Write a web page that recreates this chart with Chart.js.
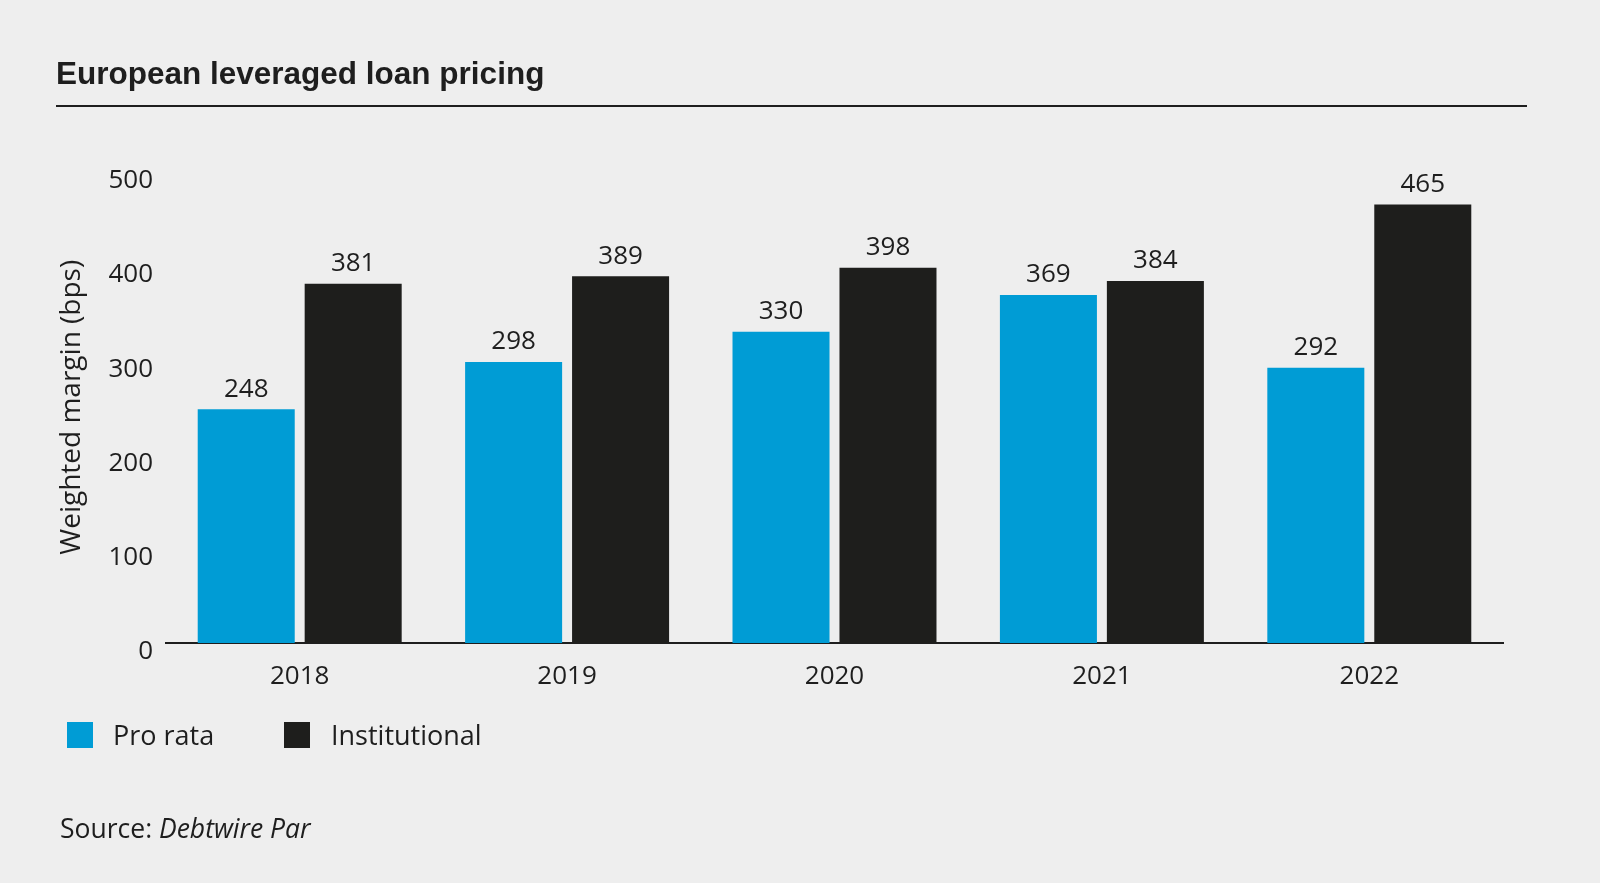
<!DOCTYPE html>
<html>
<head>
<meta charset="utf-8">
<script src="https://cdn.jsdelivr.net/npm/chart.js@4.4.1/dist/chart.umd.min.js"></script>
<style>
  html, body { margin: 0; padding: 0; background: #eeeeee; }
  #wrap { width: 1600px; height: 883px; position: relative; }
  canvas { display: block; }
</style>
</head>
<body>
<div id="wrap"><canvas id="c" width="1600" height="883"></canvas></div>
<script>
const titleText = "European leveraged loan pricing";
const categories = ["2018", "2019", "2020", "2021", "2022"];
const seriesNames = ["Pro rata", "Institutional"];
const proRata = [248, 298, 330, 369, 292];
const institutional = [381, 389, 398, 384, 465];
const yTicks = [0, 100, 200, 300, 400, 500];
const yAxisTitle = "Weighted margin (bps)";
const sourceLabel = "Source: ";
const sourceName = "Debtwire Par";

const TEXT = "#1e1e1e";
const BLUE = "#009cd5";
const BLACK = "#1e1e1c";
const FONT = "'Open Sans', 'Noto Sans', sans-serif";

const decorPlugin = {
  id: 'decor',
  afterDraw(chart) {
    const ctx = chart.ctx;
    ctx.save();
    // Title
    ctx.fillStyle = TEXT;
    ctx.font = "bold 31.5px 'Liberation Sans', Arial, sans-serif";
    ctx.textBaseline = 'alphabetic';
    ctx.textAlign = 'left';
    ctx.fillText(titleText, 56, 84);
    // rule
    ctx.strokeStyle = TEXT;
    ctx.lineWidth = 2;
    ctx.beginPath();
    ctx.moveTo(56, 106);
    ctx.lineTo(1527, 106);
    ctx.stroke();

    // value labels
    ctx.font = "26px " + FONT;
    ctx.textAlign = 'center';
    ctx.textBaseline = 'middle';
    chart.data.datasets.forEach((ds, i) => {
      const meta = chart.getDatasetMeta(i);
      meta.data.forEach((bar, j) => {
        ctx.fillText(String(ds.data[j]), bar.x, bar.y - 20);
      });
    });

    // legend
    const legendX = [67, 284];
    chart.data.datasets.forEach((ds, i) => {
      const x = legendX[i];
      ctx.fillStyle = ds.backgroundColor;
      ctx.fillRect(x, 722, 26, 26);
      ctx.fillStyle = TEXT;
      ctx.textAlign = 'left';
      ctx.textBaseline = 'middle';
      ctx.font = "27px " + FONT;
      ctx.fillText(ds.label, x + 46 + i * 1, 737.5);
    });

    // source
    ctx.font = "26.5px " + FONT;
    ctx.textBaseline = 'middle';
    ctx.fillStyle = TEXT;
    ctx.fillText(sourceLabel, 60, 830);
    const w = ctx.measureText(sourceLabel).width;
    ctx.font = "italic 26.5px " + FONT;
    ctx.fillText(sourceName, 60 + w, 830);
    ctx.restore();
  }
};

new Chart(document.getElementById('c'), {
  type: 'bar',
  data: {
    labels: categories,
    datasets: [
      { label: seriesNames[0], data: proRata, backgroundColor: BLUE,
        categoryPercentage: 0.80, barPercentage: 0.907 },
      { label: seriesNames[1], data: institutional, backgroundColor: BLACK,
        categoryPercentage: 0.80, barPercentage: 0.907 }
    ]
  },
  options: {
    responsive: false,
    animation: false,
    devicePixelRatio: 1,
    layout: { padding: { left: 0, right: 97, top: 171.5, bottom: 0 } },
    plugins: { legend: { display: false }, tooltip: { enabled: false } },
    scales: {
      x: {
        grid: { display: false, drawTicks: false },
        border: { display: true, color: TEXT, width: 2 },
        ticks: { color: TEXT, font: { family: FONT, size: 26 }, padding: 18 },
        afterFit: (s) => { s.height = 240; }
      },
      y: {
        min: 0, max: 500,
        grid: { display: false, drawTicks: false },
        border: { display: false },
        afterBuildTicks: (s) => { s.ticks = yTicks.map(v => ({ value: v })); },
        ticks: { color: TEXT, font: { family: FONT, size: 26 }, padding: 13, labelOffset: 9 },
        title: { display: true, text: yAxisTitle, color: TEXT,
                 font: { family: FONT, size: 28 }, padding: { top: 55, bottom: 0 } },
        afterFit: (s) => { s.width = 166; }
      }
    }
  },
  plugins: [decorPlugin]
});
</script>
</body>
</html>
